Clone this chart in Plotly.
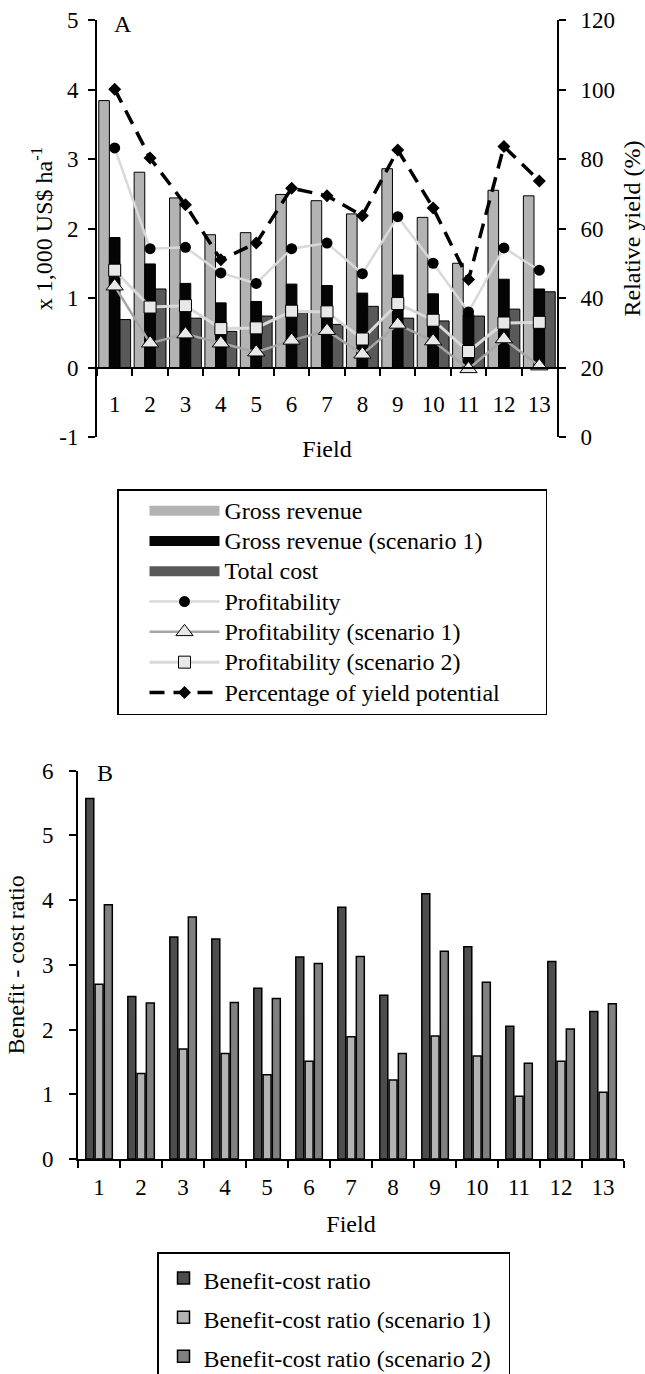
import plotly.graph_objects as go

W, H = 645, 1374
FONT = "Liberation Serif"

fields = [str(i) for i in range(1, 14)]

# Panel A (x 1,000 US$ ha-1)
gross_revenue = [3.84, 2.81, 2.44, 1.91, 1.94, 2.49, 2.40, 2.21, 2.86, 2.16, 1.50, 2.55, 2.47]
gross_revenue_s1 = [1.87, 1.49, 1.21, 0.93, 0.95, 1.20, 1.18, 1.07, 1.33, 1.06, 0.76, 1.27, 1.13]
total_cost = [0.69, 1.13, 0.71, 0.52, 0.74, 0.79, 0.62, 0.88, 0.71, 0.67, 0.74, 0.84, 1.09]
profitability = [3.16, 1.71, 1.73, 1.36, 1.21, 1.71, 1.79, 1.35, 2.17, 1.50, 0.80, 1.72, 1.40]
profitability_s1 = [1.17, 0.35, 0.48, 0.35, 0.22, 0.39, 0.53, 0.19, 0.62, 0.38, -0.02, 0.41, 0.02]
profitability_s2 = [1.40, 0.87, 0.89, 0.56, 0.57, 0.81, 0.80, 0.41, 0.92, 0.68, 0.23, 0.64, 0.65]
# Relative yield (%)
yield_potential = [100.1, 80.3, 66.8, 51.0, 55.8, 71.6, 69.4, 63.7, 82.6, 65.9, 45.3, 83.6, 73.7]

# Panel B
bcr = [5.57, 2.51, 3.43, 3.40, 2.64, 3.12, 3.89, 2.53, 4.10, 3.28, 2.05, 3.05, 2.28]
bcr_s1 = [2.70, 1.32, 1.70, 1.63, 1.30, 1.51, 1.89, 1.22, 1.90, 1.59, 0.97, 1.51, 1.03]
bcr_s2 = [3.93, 2.41, 3.74, 2.42, 2.48, 3.02, 3.13, 1.63, 3.21, 2.73, 1.48, 2.01, 2.40]

left_ticks = [-1, 0, 1, 2, 3, 4, 5]
left_ticktext = ["-1", "0", "1", "2", "3", "4", "5"]


def px_x(p):
    return p / W


def px_y(p):
    return 1 - p / H


def legend_label(text):
    return "<span style='font-size:24px'>" + text + "</span>"


fig = go.Figure()

bar_specs = [(gross_revenue, "Gross revenue", "#b3b3b3"),
             (gross_revenue_s1, "Gross revenue (scenario 1)", "#050505"),
             (total_cost, "Total cost", "#595959")]
for vals, nm, col in bar_specs:
    fig.add_trace(go.Bar(x=fields, y=vals, name=nm, showlegend=False, legendgroup=nm,
                         marker=dict(color=col, line=dict(color="black", width=1)),
                         xaxis="x", yaxis="y"))
# wide rectangular legend keys for the bar series
for vals, nm, col in bar_specs:
    fig.add_trace(go.Scatter(x=[None], y=[None], name=legend_label(nm), legendgroup=nm,
                             mode="lines", line=dict(color=col, width=14),
                             xaxis="x", yaxis="y"))

fig.add_trace(go.Scatter(x=fields, y=profitability, name=legend_label("Profitability"),
                         mode="lines+markers",
                         line=dict(color="#d9d9d9", width=2.5),
                         marker=dict(symbol="circle", size=11, color="black"),
                         xaxis="x", yaxis="y"))
fig.add_trace(go.Scatter(x=fields, y=profitability_s1, name=legend_label("Profitability (scenario 1)"),
                         mode="lines+markers",
                         line=dict(color="#a6a6a6", width=2.5),
                         marker=dict(symbol="triangle-up", size=15, color="#e8e8e8",
                                     line=dict(color="black", width=1)),
                         xaxis="x", yaxis="y"))
fig.add_trace(go.Scatter(x=fields, y=profitability_s2, name=legend_label("Profitability (scenario 2)"),
                         mode="lines+markers",
                         line=dict(color="#d9d9d9", width=3),
                         marker=dict(symbol="square", size=12, color="#e8e8e8",
                                     line=dict(color="black", width=1)),
                         xaxis="x", yaxis="y"))
fig.add_trace(go.Scatter(x=fields, y=yield_potential, name=legend_label("Percentage of yield potential"),
                         mode="lines+markers",
                         line=dict(color="black", width=3.5, dash="15px,9px"),
                         marker=dict(symbol="diamond", size=10, color="black"),
                         xaxis="x", yaxis="y2"))

# Panel B bars
bw = 0.19
for vals, nm, col, off in [(bcr, "Benefit-cost ratio", "#4d4d4d", -0.314),
                           (bcr_s1, "Benefit-cost ratio (scenario 1)", "#b3b3b3", -0.093),
                           (bcr_s2, "Benefit-cost ratio (scenario 2)", "#808080", 0.127)]:
    fig.add_trace(go.Bar(x=fields, y=vals, name=legend_label(nm), width=bw, offset=off,
                         marker=dict(color=col, line=dict(color="black", width=1.5)),
                         xaxis="x2", yaxis="y3", legend="legend2"))

axis_common = dict(showline=True, linecolor="black", linewidth=2, ticks="outside",
                   tickcolor="black", tickwidth=2, ticklen=7, showgrid=False, zeroline=False,
                   tickfont=dict(family=FONT, size=23, color="black"),
                   title_font=dict(family=FONT, size=24, color="black"))

top_dom_x = [px_x(97), px_x(557)]
top_dom_y = [px_y(437), px_y(20)]
bot_dom_x = [px_x(78), px_x(624)]
bot_dom_y = [px_y(1159), px_y(770.7)]

fig.update_layout(
    width=W, height=H,
    margin=dict(l=0, r=0, t=0, b=0, autoexpand=False),
    paper_bgcolor="white", plot_bgcolor="rgba(0,0,0,0)",
    font=dict(family=FONT, size=23, color="black"),
    barmode="group", bargap=0.1, bargroupgap=0.0,
    xaxis=dict(axis_common, domain=top_dom_x, anchor="free", position=px_y(368),
               type="category", range=[-0.5, 12.5], tickson="boundaries", ticklabelstandoff=15,
               title=dict(text="Field", standoff=24)),
    yaxis=dict(axis_common, domain=top_dom_y, anchor="x", range=[-1, 5],
               tickvals=left_ticks, ticktext=left_ticktext, ticklabelstandoff=5,
               title=dict(text="x 1,000 US$ ha<sup>-1</sup>", standoff=0)),
    yaxis2=dict(axis_common, domain=top_dom_y, anchor="x", overlaying="y", side="right",
                range=[0, 120], dtick=20, ticklabelstandoff=10,
                title=dict(text="Relative yield (%)", standoff=12)),
    xaxis2=dict(axis_common, domain=bot_dom_x, anchor="y3", type="category",
                range=[-0.5, 12.5], tickson="boundaries", ticklabelstandoff=6,
                title=dict(text="Field", standoff=17)),
    yaxis3=dict(axis_common, domain=bot_dom_y, anchor="x2", range=[0, 6], dtick=1,
                ticklabelstandoff=11,
                title=dict(text="Benefit - cost ratio", standoff=10)),
    legend=dict(x=px_x(117), y=px_y(489), xanchor="left", yanchor="top",
                orientation="h", entrywidth=316, entrywidthmode="pixels",
                bgcolor="white", bordercolor="black", borderwidth=1.5,
                font=dict(family=FONT, size=21, color="black"),
                itemwidth=70, indentation=26, traceorder="normal"),
    legend2=dict(x=px_x(157), y=px_y(1252), xanchor="left", yanchor="top",
                 orientation="h", entrywidth=300, entrywidthmode="pixels",
                 bgcolor="white", bordercolor="black", borderwidth=1.5,
                 font=dict(family=FONT, size=27.8, color="black"),
                 itemwidth=30, indentation=5, traceorder="normal"),
    annotations=[
        dict(text="A", x=px_x(123), y=px_y(24), xref="paper", yref="paper",
             xanchor="center", yanchor="middle",
             showarrow=False, font=dict(family=FONT, size=24, color="black")),
        dict(text="B", x=px_x(105), y=px_y(773), xref="paper", yref="paper",
             xanchor="center", yanchor="middle",
             showarrow=False, font=dict(family=FONT, size=24, color="black")),
    ],
)

fig.write_html("out.html", config={"displayModeBar": False},
               post_script="document.body.style.margin='0';")
